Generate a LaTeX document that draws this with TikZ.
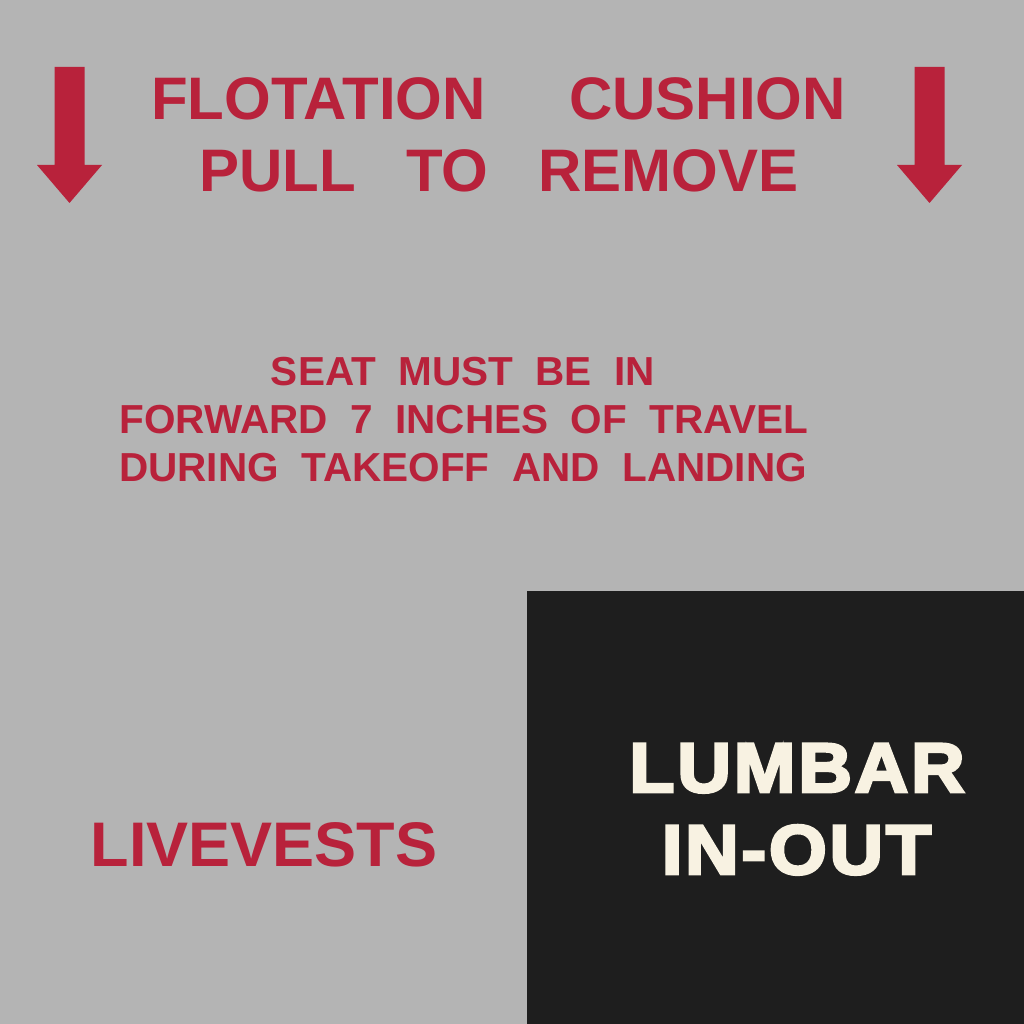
\documentclass[tikz,border=0pt]{standalone}
\usepackage{fontspec}
\setmainfont{Liberation Sans}
\newfontfamily\heavyfont[FakeStretch=1.06, LetterSpace=4, BoldFeatures={FakeBold=4}]{Liberation Sans}
\usetikzlibrary{positioning}
\definecolor{panelgray}{HTML}{B4B4B4}
\definecolor{signred}{HTML}{B8223B}
\definecolor{darkpanel}{HTML}{1E1E1E}
\definecolor{creamtext}{HTML}{F8F2E2}
\tikzset{
    signtext/.style={inner sep=0pt, anchor=base, text=signred},
    bigred/.style={signtext, font=\bfseries\fontsize{60}{72}\selectfont},
    midred/.style={signtext, font=\bfseries\fontsize{40.5}{48}\selectfont},
    vestred/.style={signtext, font=\bfseries\fontsize{63}{75}\selectfont},
    lumbartext/.style={inner sep=0pt, anchor=base, text=creamtext, font=\heavyfont\bfseries\fontsize{70}{82}\selectfont},
    downarrow/.style={fill=signred}
}

\begin{document}
\begin{tikzpicture}[x=1pt, y=-1pt]

        % ------------------
        % panels
        % ------------------

        \fill[panelgray] (0,0) rectangle (1024,1024);
        \fill[darkpanel] (527,591) rectangle (1024,1024);

        % ------------------
        % arrows
        % ------------------

        \foreach \cx in {69.5, 929.5} {
            \fill[downarrow] (\cx-15,67) -- (\cx+15,67) -- (\cx+15,165) -- (\cx+32.5,165)
                -- (\cx,203) -- (\cx-32.5,165) -- (\cx-15,165) -- cycle;
        }

        % ------------------
        % nodes
        % ------------------

        \node[bigred] (flotation) at (498.5,120) {FLOTATION~~~~~CUSHION};
        \node[bigred] (pull) at (499,192) {PULL~~~TO~~~REMOVE};

        \node[midred] (seat) at (463,385) {SEAT~~MUST~~BE~~IN};
        \node[midred] (forward) at (464,433) {FORWARD~~7~~INCHES~~OF~~TRAVEL};
        \node[midred] (during) at (463,481) {DURING~~TAKEOFF~~AND~~LANDING};

        \node[vestred] (livevests) at (264,866.7) {LIVEVESTS};

        \node[lumbartext] (lumbar) at (797,792) {LUMBAR};
        \node[lumbartext] (inout) at (796.5,874) {IN-OUT};

\end{tikzpicture}
\end{document}
